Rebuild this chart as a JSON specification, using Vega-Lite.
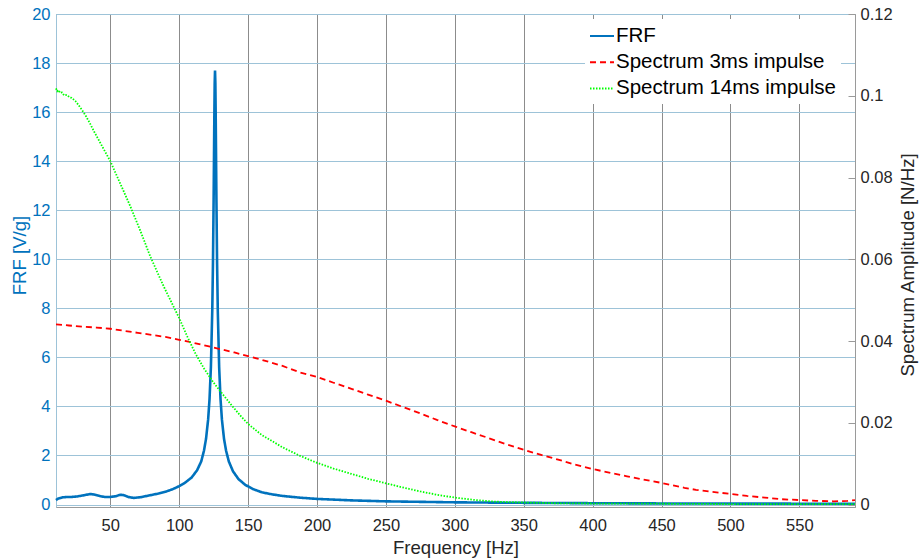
{
  "$schema": "https://vega.github.io/schema/vega-lite/v6.json",
  "width": 799,
  "height": 493,
  "autosize": {"type": "none"},
  "padding": {"left": 56, "top": 14, "right": 66, "bottom": 52},
  "background": "white",
  "config": {
    "font": "Liberation Sans",
    "view": {"stroke": "#9a9a9a", "strokeWidth": 1},
    "legend": {
      "symbolType": "stroke",
      "symbolSize": 576,
      "symbolStrokeWidth": 2,
      "labelFontSize": 20.5,
      "labelFont": "Liberation Sans",
      "labelColor": "#000000",
      "labelLimit": 400,
      "labelOffset": 1,
      "rowPadding": 2.2,
      "padding": 4,
      "fillColor": "white",
      "strokeColor": "white"
    }
  },
  "data": {
    "values": [
      {"s": "FRF", "f": 10.6, "v": 0.18}, {"s": "FRF", "f": 12, "v": 0.24}, {"s": "FRF", "f": 15, "v": 0.29},
      {"s": "FRF", "f": 18.6, "v": 0.31}, {"s": "FRF", "f": 22, "v": 0.31}, {"s": "FRF", "f": 26, "v": 0.33},
      {"s": "FRF", "f": 30, "v": 0.37}, {"s": "FRF", "f": 35.5, "v": 0.43}, {"s": "FRF", "f": 38, "v": 0.41},
      {"s": "FRF", "f": 42.8, "v": 0.34}, {"s": "FRF", "f": 46, "v": 0.31}, {"s": "FRF", "f": 50, "v": 0.31},
      {"s": "FRF", "f": 54, "v": 0.34}, {"s": "FRF", "f": 57.3, "v": 0.4}, {"s": "FRF", "f": 60, "v": 0.38},
      {"s": "FRF", "f": 63, "v": 0.31}, {"s": "FRF", "f": 66.9, "v": 0.27}, {"s": "FRF", "f": 72, "v": 0.3},
      {"s": "FRF", "f": 79, "v": 0.38}, {"s": "FRF", "f": 85, "v": 0.45}, {"s": "FRF", "f": 91, "v": 0.54},
      {"s": "FRF", "f": 95, "v": 0.62}, {"s": "FRF", "f": 100, "v": 0.75}, {"s": "FRF", "f": 104, "v": 0.88},
      {"s": "FRF", "f": 109, "v": 1.1}, {"s": "FRF", "f": 113, "v": 1.4}, {"s": "FRF", "f": 116, "v": 1.76},
      {"s": "FRF", "f": 118, "v": 2.2}, {"s": "FRF", "f": 119.5, "v": 2.69}, {"s": "FRF", "f": 121, "v": 3.47},
      {"s": "FRF", "f": 122, "v": 4.29}, {"s": "FRF", "f": 123, "v": 5.6}, {"s": "FRF", "f": 124, "v": 7.92},
      {"s": "FRF", "f": 124.5, "v": 9.82}, {"s": "FRF", "f": 125, "v": 12.52}, {"s": "FRF", "f": 125.25, "v": 14.16},
      {"s": "FRF", "f": 125.5, "v": 15.83}, {"s": "FRF", "f": 125.75, "v": 17.17}, {"s": "FRF", "f": 126, "v": 17.7},
      {"s": "FRF", "f": 126.25, "v": 17.17}, {"s": "FRF", "f": 126.5, "v": 15.83}, {"s": "FRF", "f": 126.75, "v": 14.16},
      {"s": "FRF", "f": 127, "v": 12.52}, {"s": "FRF", "f": 127.5, "v": 9.82}, {"s": "FRF", "f": 128, "v": 7.92},
      {"s": "FRF", "f": 129, "v": 5.6}, {"s": "FRF", "f": 130, "v": 4.29}, {"s": "FRF", "f": 131, "v": 3.47},
      {"s": "FRF", "f": 132.5, "v": 2.69}, {"s": "FRF", "f": 134, "v": 2.2}, {"s": "FRF", "f": 136, "v": 1.76},
      {"s": "FRF", "f": 139, "v": 1.36}, {"s": "FRF", "f": 143, "v": 1.04}, {"s": "FRF", "f": 148, "v": 0.8},
      {"s": "FRF", "f": 154, "v": 0.62}, {"s": "FRF", "f": 160, "v": 0.5}, {"s": "FRF", "f": 167, "v": 0.42},
      {"s": "FRF", "f": 175, "v": 0.35}, {"s": "FRF", "f": 187.8, "v": 0.28}, {"s": "FRF", "f": 200, "v": 0.23},
      {"s": "FRF", "f": 225, "v": 0.17}, {"s": "FRF", "f": 250, "v": 0.13}, {"s": "FRF", "f": 275, "v": 0.11},
      {"s": "FRF", "f": 300, "v": 0.09}, {"s": "FRF", "f": 350, "v": 0.07}, {"s": "FRF", "f": 400, "v": 0.055},
      {"s": "FRF", "f": 450, "v": 0.045}, {"s": "FRF", "f": 500, "v": 0.04}, {"s": "FRF", "f": 550, "v": 0.035},
      {"s": "FRF", "f": 590.4, "v": 0.03},

      {"s": "Spectrum 3ms impulse", "f": 10.6, "v": 0.0441}, {"s": "Spectrum 3ms impulse", "f": 20, "v": 0.0438},
      {"s": "Spectrum 3ms impulse", "f": 30, "v": 0.0435}, {"s": "Spectrum 3ms impulse", "f": 40, "v": 0.0433},
      {"s": "Spectrum 3ms impulse", "f": 50, "v": 0.043}, {"s": "Spectrum 3ms impulse", "f": 60, "v": 0.0425},
      {"s": "Spectrum 3ms impulse", "f": 70, "v": 0.042}, {"s": "Spectrum 3ms impulse", "f": 80, "v": 0.0415},
      {"s": "Spectrum 3ms impulse", "f": 90, "v": 0.041}, {"s": "Spectrum 3ms impulse", "f": 100, "v": 0.0403},
      {"s": "Spectrum 3ms impulse", "f": 110, "v": 0.0396}, {"s": "Spectrum 3ms impulse", "f": 120, "v": 0.0388},
      {"s": "Spectrum 3ms impulse", "f": 130, "v": 0.038}, {"s": "Spectrum 3ms impulse", "f": 140, "v": 0.0372},
      {"s": "Spectrum 3ms impulse", "f": 150, "v": 0.0363}, {"s": "Spectrum 3ms impulse", "f": 160, "v": 0.0354},
      {"s": "Spectrum 3ms impulse", "f": 175, "v": 0.0339}, {"s": "Spectrum 3ms impulse", "f": 187.8, "v": 0.0323},
      {"s": "Spectrum 3ms impulse", "f": 200, "v": 0.0312}, {"s": "Spectrum 3ms impulse", "f": 212, "v": 0.0298},
      {"s": "Spectrum 3ms impulse", "f": 225, "v": 0.0283}, {"s": "Spectrum 3ms impulse", "f": 237, "v": 0.0269},
      {"s": "Spectrum 3ms impulse", "f": 250, "v": 0.0254}, {"s": "Spectrum 3ms impulse", "f": 262, "v": 0.0239},
      {"s": "Spectrum 3ms impulse", "f": 275, "v": 0.0223}, {"s": "Spectrum 3ms impulse", "f": 287, "v": 0.0207},
      {"s": "Spectrum 3ms impulse", "f": 300, "v": 0.0191}, {"s": "Spectrum 3ms impulse", "f": 312, "v": 0.0177},
      {"s": "Spectrum 3ms impulse", "f": 325, "v": 0.0162}, {"s": "Spectrum 3ms impulse", "f": 337, "v": 0.0148},
      {"s": "Spectrum 3ms impulse", "f": 350, "v": 0.0134}, {"s": "Spectrum 3ms impulse", "f": 362, "v": 0.0122},
      {"s": "Spectrum 3ms impulse", "f": 375, "v": 0.011}, {"s": "Spectrum 3ms impulse", "f": 387, "v": 0.0098},
      {"s": "Spectrum 3ms impulse", "f": 400, "v": 0.0087}, {"s": "Spectrum 3ms impulse", "f": 412, "v": 0.0078},
      {"s": "Spectrum 3ms impulse", "f": 425, "v": 0.0069}, {"s": "Spectrum 3ms impulse", "f": 437, "v": 0.0061},
      {"s": "Spectrum 3ms impulse", "f": 450, "v": 0.0053}, {"s": "Spectrum 3ms impulse", "f": 466.6, "v": 0.0041},
      {"s": "Spectrum 3ms impulse", "f": 475, "v": 0.0036}, {"s": "Spectrum 3ms impulse", "f": 487, "v": 0.0031},
      {"s": "Spectrum 3ms impulse", "f": 500, "v": 0.0026}, {"s": "Spectrum 3ms impulse", "f": 512, "v": 0.0021},
      {"s": "Spectrum 3ms impulse", "f": 525, "v": 0.0017}, {"s": "Spectrum 3ms impulse", "f": 537, "v": 0.0013},
      {"s": "Spectrum 3ms impulse", "f": 550, "v": 0.0011}, {"s": "Spectrum 3ms impulse", "f": 562, "v": 0.0009},
      {"s": "Spectrum 3ms impulse", "f": 575, "v": 0.0008}, {"s": "Spectrum 3ms impulse", "f": 585, "v": 0.0009},
      {"s": "Spectrum 3ms impulse", "f": 590.4, "v": 0.0011},

      {"s": "Spectrum 14ms impulse", "f": 10.6, "v": 0.1018}, {"s": "Spectrum 14ms impulse", "f": 11.5, "v": 0.1011},
      {"s": "Spectrum 14ms impulse", "f": 12.5, "v": 0.1014}, {"s": "Spectrum 14ms impulse", "f": 13.5, "v": 0.1007},
      {"s": "Spectrum 14ms impulse", "f": 15, "v": 0.1008}, {"s": "Spectrum 14ms impulse", "f": 16.5, "v": 0.1001},
      {"s": "Spectrum 14ms impulse", "f": 18.6, "v": 0.1002}, {"s": "Spectrum 14ms impulse", "f": 20.5, "v": 0.0996},
      {"s": "Spectrum 14ms impulse", "f": 22, "v": 0.0995}, {"s": "Spectrum 14ms impulse", "f": 24.7, "v": 0.0987},
      {"s": "Spectrum 14ms impulse", "f": 27, "v": 0.0977}, {"s": "Spectrum 14ms impulse", "f": 29.5, "v": 0.0965},
      {"s": "Spectrum 14ms impulse", "f": 32, "v": 0.0952}, {"s": "Spectrum 14ms impulse", "f": 35, "v": 0.0934},
      {"s": "Spectrum 14ms impulse", "f": 38, "v": 0.0914},
      {"s": "Spectrum 14ms impulse", "f": 44, "v": 0.0877}, {"s": "Spectrum 14ms impulse", "f": 50, "v": 0.084},
      {"s": "Spectrum 14ms impulse", "f": 57, "v": 0.0787}, {"s": "Spectrum 14ms impulse", "f": 64.6, "v": 0.0729},
      {"s": "Spectrum 14ms impulse", "f": 72, "v": 0.0668}, {"s": "Spectrum 14ms impulse", "f": 79, "v": 0.0607},
      {"s": "Spectrum 14ms impulse", "f": 88.7, "v": 0.0534}, {"s": "Spectrum 14ms impulse", "f": 100, "v": 0.0456},
      {"s": "Spectrum 14ms impulse", "f": 106, "v": 0.0410}, {"s": "Spectrum 14ms impulse", "f": 112, "v": 0.0368},
      {"s": "Spectrum 14ms impulse", "f": 118, "v": 0.0333}, {"s": "Spectrum 14ms impulse", "f": 125, "v": 0.0298},
      {"s": "Spectrum 14ms impulse", "f": 132, "v": 0.0268}, {"s": "Spectrum 14ms impulse", "f": 138, "v": 0.0243},
      {"s": "Spectrum 14ms impulse", "f": 144, "v": 0.0219}, {"s": "Spectrum 14ms impulse", "f": 150, "v": 0.0197},
      {"s": "Spectrum 14ms impulse", "f": 160, "v": 0.0170}, {"s": "Spectrum 14ms impulse", "f": 175, "v": 0.0140},
      {"s": "Spectrum 14ms impulse", "f": 187.8, "v": 0.0119}, {"s": "Spectrum 14ms impulse", "f": 200, "v": 0.0102},
      {"s": "Spectrum 14ms impulse", "f": 212, "v": 0.0088}, {"s": "Spectrum 14ms impulse", "f": 225, "v": 0.0075},
      {"s": "Spectrum 14ms impulse", "f": 237, "v": 0.0063}, {"s": "Spectrum 14ms impulse", "f": 250, "v": 0.0052},
      {"s": "Spectrum 14ms impulse", "f": 262, "v": 0.0042}, {"s": "Spectrum 14ms impulse", "f": 275, "v": 0.0032},
      {"s": "Spectrum 14ms impulse", "f": 287, "v": 0.0024}, {"s": "Spectrum 14ms impulse", "f": 300, "v": 0.0017},
      {"s": "Spectrum 14ms impulse", "f": 315, "v": 0.0011}, {"s": "Spectrum 14ms impulse", "f": 330, "v": 0.0007},
      {"s": "Spectrum 14ms impulse", "f": 350, "v": 0.0005}, {"s": "Spectrum 14ms impulse", "f": 375, "v": 0.0003},
      {"s": "Spectrum 14ms impulse", "f": 400, "v": 0.00025}, {"s": "Spectrum 14ms impulse", "f": 450, "v": 0.0002},
      {"s": "Spectrum 14ms impulse", "f": 500, "v": 0.00012}, {"s": "Spectrum 14ms impulse", "f": 550, "v": 0.0001},
      {"s": "Spectrum 14ms impulse", "f": 590.4, "v": 0.0001}
    ]
  },
  "encoding": {
    "x": {
      "field": "f",
      "type": "quantitative",
      "scale": {"domain": [10.6, 590.4], "nice": false, "zero": false},
      "axis": {
        "title": "Frequency [Hz]",
        "values": [50, 100, 150, 200, 250, 300, 350, 400, 450, 500, 550],
        "grid": true,
        "gridColor": "#8c8c8c",
        "ticks": false,
        "labelPadding": 10,
        "labelFontSize": 16.5,
        "labelColor": "#262626",
        "titleFontSize": 18.6,
        "titleFontWeight": "normal",
        "titleColor": "#262626",
        "titleBaseline": "alphabetic",
        "titleY": 46.3,
        "domainColor": "#9a9a9a"
      }
    }
  },
  "layer": [
    {
      "transform": [{"filter": "datum.s === 'FRF'"}],
      "mark": {"type": "line", "strokeWidth": 2.6},
      "encoding": {
        "y": {
          "field": "v",
          "type": "quantitative",
          "scale": {"domain": [-0.1, 20], "nice": false, "zero": false},
          "axis": {
            "title": "FRF [V/g]",
            "orient": "left",
            "values": [0, 2, 4, 6, 8, 10, 12, 14, 16, 18, 20],
            "grid": true,
            "gridColor": "#9dc3d8",
            "domainColor": "#9dc3d8",
            "ticks": false,
            "labelPadding": 6,
            "labelColor": "#0072BD",
            "labelFontSize": 16.5,
            "titleColor": "#0072BD",
            "titleFontSize": 18.6,
            "titleFontWeight": "normal",
            "titleAngle": 270,
            "titleBaseline": "alphabetic",
            "titleAlign": "center",
            "titleX": -31,
            "titleY": 241
          }
        },
        "color": {
          "field": "s",
          "type": "nominal",
          "scale": {"domain": ["FRF", "Spectrum 3ms impulse", "Spectrum 14ms impulse"], "range": ["#0072BD", "#FF0000", "#00FF00"]},
          "legend": {"title": null, "orient": "none", "legendX": 529, "legendY": 5}
        },
        "strokeDash": {
          "field": "s",
          "type": "nominal",
          "scale": {"domain": ["FRF", "Spectrum 3ms impulse", "Spectrum 14ms impulse"], "range": [[1, 0], [6, 4], [1.5, 1.5]]},
          "legend": {"title": null, "orient": "none", "legendX": 529, "legendY": 5}
        }
      }
    },
    {
      "transform": [{"filter": "datum.s !== 'FRF'"}],
      "mark": {"type": "line", "strokeWidth": 1.8},
      "encoding": {
        "y": {
          "field": "v",
          "type": "quantitative",
          "scale": {"domain": [-0.0006, 0.12], "nice": false, "zero": false},
          "axis": {
            "title": "Spectrum Amplitude [N/Hz]",
            "orient": "right",
            "values": [0, 0.02, 0.04, 0.06, 0.08, 0.1, 0.12],
            "labelExpr": "datum.value == 0 ? '0' : toString(round(datum.value * 100) / 100)",
            "grid": false,
            "domainColor": "#9a9a9a",
            "tickColor": "#9a9a9a",
            "tickSize": -7,
            "labelPadding": 12,
            "labelColor": "#262626",
            "labelFontSize": 16.5,
            "titleColor": "#262626",
            "titleFontSize": 18.6,
            "titleFontWeight": "normal",
            "titleAngle": 270,
            "titleBaseline": "alphabetic",
            "titleAlign": "center",
            "titleX": 58,
            "titleY": 250.5
          }
        },
        "color": {
          "field": "s",
          "type": "nominal",
          "scale": {"domain": ["FRF", "Spectrum 3ms impulse", "Spectrum 14ms impulse"], "range": ["#0072BD", "#FF0000", "#00FF00"]},
          "legend": {"title": null, "orient": "none", "legendX": 529, "legendY": 5}
        },
        "strokeDash": {
          "field": "s",
          "type": "nominal",
          "scale": {"domain": ["FRF", "Spectrum 3ms impulse", "Spectrum 14ms impulse"], "range": [[1, 0], [6, 4], [1.5, 1.5]]},
          "legend": {"title": null, "orient": "none", "legendX": 529, "legendY": 5}
        }
      }
    }
  ],
  "resolve": {"scale": {"y": "independent"}}
}
